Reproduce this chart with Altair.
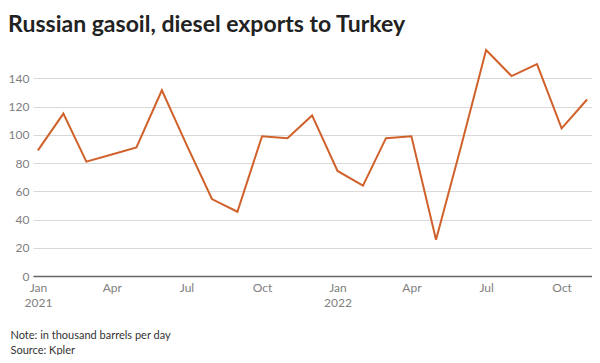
import altair as alt
import pandas as pd

months = [
    "2021-01-01", "2021-02-01", "2021-03-01", "2021-04-01", "2021-05-01", "2021-06-01",
    "2021-07-01", "2021-08-01", "2021-09-01", "2021-10-01", "2021-11-01", "2021-12-01",
    "2022-01-01", "2022-02-01", "2022-03-01", "2022-04-01", "2022-05-01", "2022-06-01",
    "2022-07-01", "2022-08-01", "2022-09-01", "2022-10-01", "2022-11-01",
]
exports = [
    89, 115, 81, 86, 91, 131.5,
    93, 54.5, 45.5, 99, 97.6, 113.7,
    74.4, 64, 97.6, 99, 25.6, 93,
    160, 141.6, 150, 104.5, 125,
]
y_ticks = [0, 20, 40, 60, 80, 100, 120, 140]
tick_months = [(2021, 1), (2021, 4), (2021, 7), (2021, 10), (2022, 1), (2022, 4), (2022, 7), (2022, 10)]

df = pd.DataFrame({"month": months, "value": exports})

FONT = "Lato"
line = alt.Chart(df).mark_line(color="#d0612b", strokeWidth=2).encode(
    x=alt.X(
        "month:T",
        scale=alt.Scale(
            type="utc",
            domain=[
                alt.DateTime(year=2020, month=12, date=26, utc=True),
                alt.DateTime(year=2022, month=11, date=7, utc=True),
            ],
        ),
        axis=alt.Axis(
            values=[alt.DateTime(year=y, month=m, date=1, utc=True) for y, m in tick_months],
            labelExpr="utcmonth(datum.value) == 0 ? [utcFormat(datum.value, '%b'), utcFormat(datum.value, '%Y')] : utcFormat(datum.value, '%b')",
            grid=False,
            ticks=False,
            domain=True,
            domainColor="#666666",
            domainWidth=1.5,
            labelColor="#808080",
            labelFontSize=12,
            labelFont=FONT,
            labelPadding=6,
            labelLineHeight=15,
            labelFlush=False,
            title=["Note: in thousand barrels per day", "Source: Kpler"],
            titleAnchor="start",
            titleAlign="left",
            titleX=-23,
            titleFont=FONT,
            titleFontSize=11,
            titleFontWeight="normal",
            titleColor="#333333",
            titleLineHeight=15,
            titlePadding=21,
        ),
    ),
    y=alt.Y(
        "value:Q",
        scale=alt.Scale(domain=[0, 165], nice=False),
        axis=alt.Axis(
            values=y_ticks,
            grid=True,
            gridColor="#d9d9d9",
            domain=False,
            ticks=False,
            labelColor="#808080",
            labelFontSize=12,
            labelFont=FONT,
            labelPadding=4,
            title=None,
        ),
    ),
)

chart = line.properties(
    width=584,
    height=347,
    autosize=alt.AutoSizeParams(type="fit", contains="padding"),
    padding={"top": 6, "left": 0, "right": 0, "bottom": 0},
    title=alt.TitleParams(
        "Russian gasoil, diesel exports to Turkey",
        anchor="start",
        frame="bounds",
        font=FONT,
        fontSize=23,
        fontWeight="bold",
        color="#222222",
        offset=6,
    ),
).configure_view(stroke=None)

chart.save("out.html", embed_options={"renderer": "svg", "actions": False})
